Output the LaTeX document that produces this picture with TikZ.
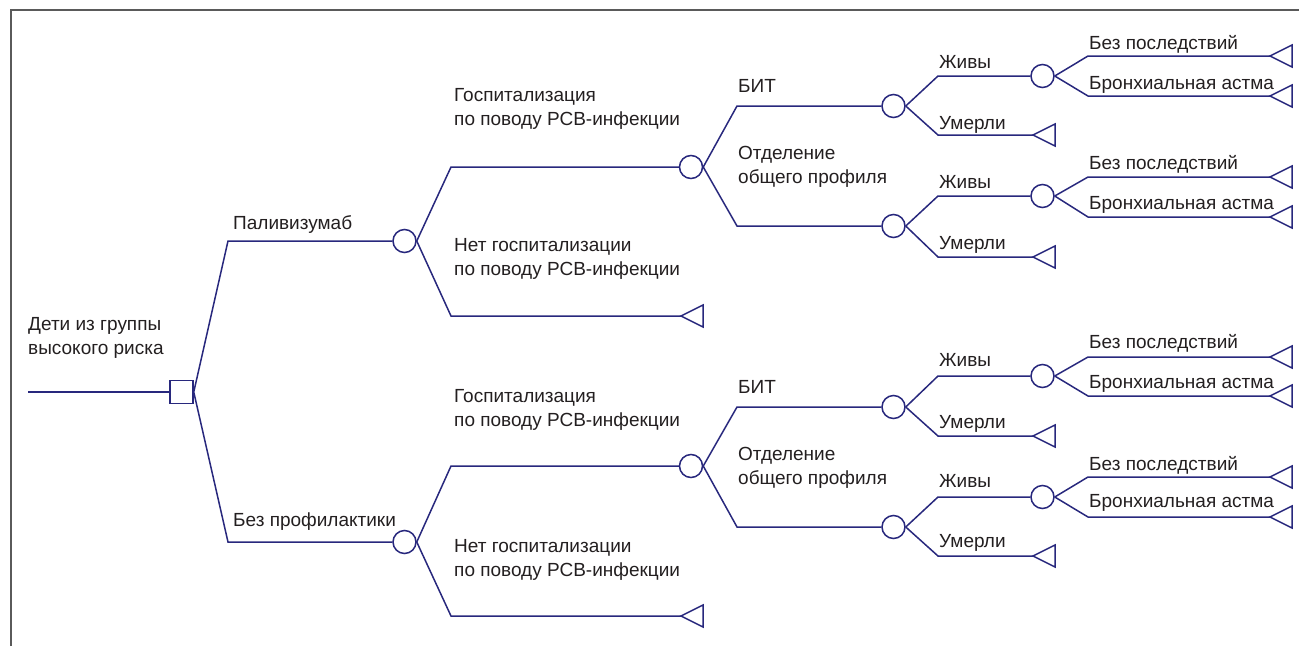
\documentclass[tikz,border=0pt]{standalone}
\usepackage{fontspec}
\setmainfont{Liberation Sans}
\definecolor{navy}{RGB}{40,40,125}
\definecolor{txt}{RGB}{35,31,32}
\definecolor{frame}{RGB}{90,90,90}
\begin{document}
\begin{tikzpicture}[x=1pt,y=-1pt,
  br/.style={draw=navy,line width=1.5pt},
  chance/.style={circle,draw=navy,line width=1.5pt,fill=white,minimum size=23pt,inner sep=0pt},
  decision/.style={rectangle,draw=navy,line width=1.5pt,fill=white,minimum size=23pt,inner sep=0pt},
  term/.style={draw=navy,line width=1.5pt,line join=miter,fill=white},
  lbl/.style={anchor=base west,inner sep=0pt,text=txt,font=\fontsize{19}{23.5}\selectfont,align=left}]
\useasboundingbox (0,0) rectangle (1299,646);
\newcommand\brn[3]{\draw[br] (#1.east) -- (#2,0 |- #3) -- (#3);}
\newcommand\trm[1]{\draw[term] (#1) -- ++(22,-11) -- ++(0,22) -- cycle;}
% frame
\draw[frame,line width=2pt] (11,646) -- (11,10) -- (1299,10);
% root
\node[decision] (sq) at (181.5,392) {};
\coordinate (root) at (28,392);
\draw[br] (root) -- (sq);
% level 1
\node[chance] (P) at (404.5,241) {};
\node[chance] (N) at (404.5,542) {};
% level 2
\node[chance] (PH) at (691,167) {};
\coordinate (PN) at (681,316);
\node[chance] (NH) at (691,466) {};
\coordinate (NN) at (681,616);
% level 3
\node[chance] (PB) at (893.5,106) {};
\node[chance] (PO) at (893.5,226) {};
\node[chance] (NB) at (893.5,407) {};
\node[chance] (NO) at (893.5,527) {};
% level 4
\node[chance] (PBl) at (1042.5,76) {};
\coordinate (PBd) at (1033,135);
\node[chance] (POl) at (1042.5,196) {};
\coordinate (POd) at (1033,257);
\node[chance] (NBl) at (1042.5,376) {};
\coordinate (NBd) at (1033,436);
\node[chance] (NOl) at (1042.5,497) {};
\coordinate (NOd) at (1033,556);
% level 5
\coordinate (PBl1) at (1270,56);
\coordinate (PBl2) at (1270,96);
\coordinate (POl1) at (1270,177);
\coordinate (POl2) at (1270,217);
\coordinate (NBl1) at (1270,357);
\coordinate (NBl2) at (1270,396);
\coordinate (NOl1) at (1270,477);
\coordinate (NOl2) at (1270,517);
% branches
\brn{sq}{228}{P} \brn{sq}{228}{N}
\brn{P}{451}{PH} \brn{P}{451}{PN}
\brn{N}{451}{NH} \brn{N}{451}{NN}
\brn{PH}{737}{PB} \brn{PH}{737}{PO}
\brn{NH}{737}{NB} \brn{NH}{737}{NO}
\brn{PB}{938}{PBl} \brn{PB}{938}{PBd}
\brn{PO}{938}{POl} \brn{PO}{938}{POd}
\brn{NB}{938}{NBl} \brn{NB}{938}{NBd}
\brn{NO}{938}{NOl} \brn{NO}{938}{NOd}
\brn{PBl}{1088}{PBl1} \brn{PBl}{1088}{PBl2}
\brn{POl}{1088}{POl1} \brn{POl}{1088}{POl2}
\brn{NBl}{1088}{NBl1} \brn{NBl}{1088}{NBl2}
\brn{NOl}{1088}{NOl1} \brn{NOl}{1088}{NOl2}
% terminals
\trm{PN} \trm{NN}
\trm{PBd} \trm{POd} \trm{NBd} \trm{NOd}
\trm{PBl1} \trm{PBl2} \trm{POl1} \trm{POl2}
\trm{NBl1} \trm{NBl2} \trm{NOl1} \trm{NOl2}
% labels
\node[lbl] (tRoot) at (28,354) {Дети из группы\\высокого риска};
\node[lbl] (tP) at (233,229) {Паливизумаб};
\node[lbl] (tN) at (233,526) {Без профилактики};
\node[lbl] (tPH) at (454,125) {Госпитализация\\по поводу РСВ-инфекции};
\node[lbl] (tPN) at (454,275) {Нет госпитализации\\по поводу РСВ-инфекции};
\node[lbl] (tNH) at (454,426) {Госпитализация\\по поводу РСВ-инфекции};
\node[lbl] (tNN) at (454,576) {Нет госпитализации\\по поводу РСВ-инфекции};
\node[lbl] (tPB) at (738,92) {БИТ};
\node[lbl] (tNB) at (738,393) {БИТ};
\node[lbl] (tPO) at (738,183) {Отделение\\общего профиля};
\node[lbl] (tNO) at (738,484) {Отделение\\общего профиля};
\node[lbl] (a1) at (939,68) {Живы};
\node[lbl] (a2) at (939,188) {Живы};
\node[lbl] (a3) at (939,366) {Живы};
\node[lbl] (a4) at (939,487) {Живы};
\node[lbl] (d1) at (939,129) {Умерли};
\node[lbl] (d2) at (939,249) {Умерли};
\node[lbl] (d3) at (939,428) {Умерли};
\node[lbl] (d4) at (939,547) {Умерли};
\node[lbl] (o1) at (1089,49) {Без последствий};
\node[lbl] (o2) at (1089,169) {Без последствий};
\node[lbl] (o3) at (1089,348) {Без последствий};
\node[lbl] (o4) at (1089,470) {Без последствий};
\node[lbl] (b1) at (1089,89) {Бронхиальная астма};
\node[lbl] (b2) at (1089,209) {Бронхиальная астма};
\node[lbl] (b3) at (1089,388) {Бронхиальная астма};
\node[lbl] (b4) at (1089,507) {Бронхиальная астма};
\end{tikzpicture}
\end{document}
